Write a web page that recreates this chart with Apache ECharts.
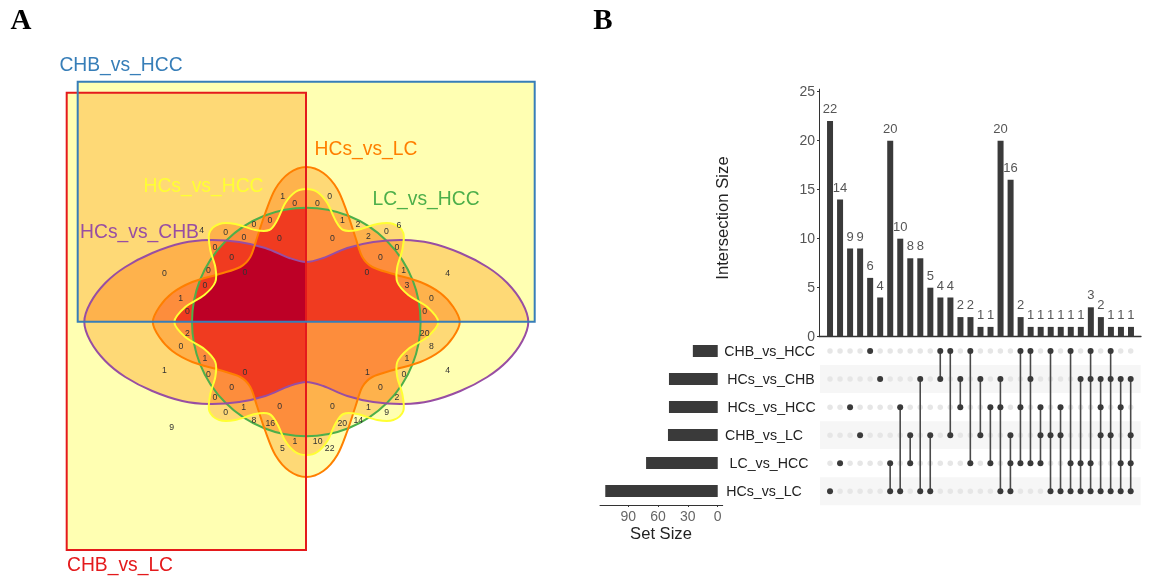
<!DOCTYPE html>
<html>
<head>
<meta charset="utf-8">
<style>html,body{margin:0;padding:0;background:#fff}#c{width:1150px;height:576px}</style>
<script src="https://cdn.jsdelivr.net/npm/echarts@6/dist/echarts.min.js"></script>
</head>
<body>
<div id="c"></div>
<script>
// ---- UpSet data ----
const setNames = ['CHB_vs_HCC','HCs_vs_CHB','HCs_vs_HCC','CHB_vs_LC','LC_vs_HCC','HCs_vs_LC'];
const setSizes = [25,49,49,50,72,113];
const intersectionSizes = [22,14,9,9,6,4,20,10,8,8,5,4,4,2,2,1,1,20,16,2,1,1,1,1,1,1,3,2,1,1,1];
const memberships = [
  [5],[4],[2],[3],[0],[1],
  [4,5],[2,5],[3,4],[1,5],[3,5],[0,1],[0,3],[1,2],[0,4],[1,3],[2,4],
  [1,2,5],[3,4,5],[0,2,4],[0,1,4],[2,3,4],[0,3,5],[2,3,5],[0,4,5],[1,4,5],
  [0,1,4,5],[1,2,3,5],[0,1,3,5],[1,2,4,5],[1,3,4,5]
];
const intersectionTicks = [0,5,10,15,20,25];
const setSizeTicks = [0,30,60,90];

// ---- Venn data ----
const vennCounts = ['4','0','0','0','0','1','0','0','0','0','0','0','0','0','1','0','2','0','1','0','0','0','0','0','1','0','8','16','1','5','1','9',
  '20','8','1','0','1','0','2','0','1','9','20','14','10','22','4',
  '0','0','1','2','6','0','2','0','0','0','0','1','3','0','0','4'];
const vennCountAnchors = [[201.7,230],[225.7,231.7],[244,236.7],[254,224],[270,220],[282.7,196],[294.7,202.7],[279.3,238],[215,247.3],[231.7,257],[208.3,269.7],[245,272.3],[164.3,273.3],[205,285.5],[180.7,298],[187.3,310.7],
  [187.3,333.3],[181,345.7],[205,358.3],[208.3,374],[245,371.7],[231.7,386.7],[215,396.7],[225.7,412],[243.7,407.3],[279.7,405.7],[254,420],[270.3,423.3],[295,441],[282.3,447.7],[164.3,370.3],[171.7,426.7],
  [424.7,333.3],[431.3,345.7],[407,358.3],[404,374],[367.3,371.7],[380.3,386.7],[397,396.7],[332.3,405.7],[368.3,407.3],[386.7,412],[342.3,423.3],[358.3,420],[317.7,441],[329.7,447.7],[447.7,370],
  [329.7,195.7],[317.3,203],[342.3,220.3],[358,223.7],[399,225],[386.3,231.3],[368.3,236.3],[332.3,238],[397,247.3],[380.3,257],[367,272.3],[403.7,269.7],[407,285.3],[431.3,298],[424.7,310.7],[447.7,273.3]];
const vennCentre = [306.3,322];
// one quadrant of each curved outline, as offsets from the centre
const purpleQuadrant = [[0,-60],[17,-64],[41,-74],[67,-80],[97,-82],[124,-79],[154,-69],[181,-55],[201,-39],[216,-19],[222,0]];
const orangeQuadrant = [[0,-155],[17,-149],[31,-133],[41,-109],[49,-85],[56,-65],[66,-55],[87,-48],[114,-40],[134,-29],[147,-15],[153.5,0]];
const yellowQuadrant = [[0,-133],[11,-130],[21,-119],[29,-102],[37,-92],[51,-92],[71,-98],[87,-98],[97,-89],[96,-72],[91,-55],[91,-40],[102,-27],[121,-15],[132,0]];
const greenRadius = 114.3;
const redCorners = [[66.7,92.7],[306,550]];
const blueCorners = [[77.7,81.7],[534.7,321.8]];
const regionColors = ['#FFFFB2','#FED976','#FEB24C','#FD8D3C','#F03B20','#BD0026'];
const vennLabels = [
  ['CHB_vs_HCC',121,65.5,'#377EB8'],['HCs_vs_LC',366,149.5,'#FF7F00'],['LC_vs_HCC',426,199.5,'#4DAF4A'],
  ['HCs_vs_HCC',203.5,186.5,'#FFFF33'],['HCs_vs_CHB',139.5,232.5,'#984EA3'],['CHB_vs_LC',120,565.5,'#E41A1C']
];
const setLabelCentres = [769.7,771,771.7,764,769,764];
const setLabelRows = [352,380,408,436.3,464.3,492.3];

// ---- drawing helpers ----
const font = 'Liberation Sans';
function fullOutline(q){
  const pts = q.map(p=>[p[0],p[1]]);
  const n = q.length;
  for(let i=n-2;i>=0;i--) pts.push([q[i][0],-q[i][1]]);
  for(let i=1;i<n;i++) pts.push([-q[i][0],-q[i][1]]);
  for(let i=n-2;i>=1;i--) pts.push([-q[i][0],q[i][1]]);
  return pts;
}
function splinePath(pts){
  const n = pts.length;
  let d = 'M'+pts[0][0].toFixed(2)+' '+pts[0][1].toFixed(2);
  for(let i=0;i<n;i++){
    const p0=pts[(i-1+n)%n],p1=pts[i],p2=pts[(i+1)%n],p3=pts[(i+2)%n];
    const c1=[p1[0]+(p2[0]-p0[0])/6,p1[1]+(p2[1]-p0[1])/6];
    const c2=[p2[0]-(p3[0]-p1[0])/6,p2[1]-(p3[1]-p1[1])/6];
    d+=' C'+[c1[0],c1[1],c2[0],c2[1],p2[0],p2[1]].map(v=>v.toFixed(2)).join(' ');
  }
  return d+' Z';
}
function renderVenn(params,api){
  const toPx = (x,y)=>api.coord([x,y]);
  const curve = q=>({type:'path',shape:{pathData:splinePath(fullOutline(q).map(p=>toPx(vennCentre[0]+p[0],vennCentre[1]+p[1])))}});
  const rectOf = c=>{const a=toPx(c[0][0],c[0][1]),b=toPx(c[1][0],c[1][1]);return {type:'rect',shape:{x:a[0],y:a[1],width:b[0]-a[0],height:b[1]-a[1]}};};
  const cc = toPx(vennCentre[0],vennCentre[1]);
  const rEdge = toPx(vennCentre[0]+greenRadius,vennCentre[1]);
  const shapes = {
    green:{type:'circle',shape:{cx:cc[0],cy:cc[1],r:rEdge[0]-cc[0]}},
    purple:curve(purpleQuadrant), orange:curve(orangeQuadrant), yellow:curve(yellowQuadrant),
    red:rectOf(redCorners), blue:rectOf(blueCorners)
  };
  const order = ['red','blue','green','purple','orange','yellow'];
  const tl = toPx(0,0), br = toPx(600,576);
  const children = [];
  const clone = s=>JSON.parse(JSON.stringify(s));
  for(let k=1;k<=6;k++){
    for(let mask=1;mask<64;mask++){
      const members = order.filter((_,i)=>mask>>i&1);
      if(members.length!==k) continue;
      let el = {type:'rect',shape:{x:tl[0],y:tl[1],width:br[0]-tl[0],height:br[1]-tl[1]},style:{fill:regionColors[k-1]}};
      members.forEach(name=>{el={type:'group',clipPath:clone(shapes[name]),children:[el]};});
      children.push(el);
    }
  }
  const strokeColors = {green:'#4DAF4A',purple:'#984EA3',orange:'#FF7F00',yellow:'#FFFF33',red:'#E41A1C',blue:'#377EB8'};
  ['green','purple','orange','yellow','red','blue'].forEach(name=>{
    const s = clone(shapes[name]);
    s.style = {fill:'none',stroke:strokeColors[name],lineWidth:2};
    children.push(s);
  });
  return {type:'group',children};
}
function textSeries(data,size,opts){
  opts = opts||{};
  return {type:'custom',coordinateSystem:'cartesian2d',xAxisIndex:0,yAxisIndex:0,silent:true,z:opts.z||5,clip:false,
    data:data.map((d,i)=>({value:[d[1],d[2]],label:d[0],color:d[3]||opts.color})),
    renderItem:(params,api)=>{
      const it = data[params.dataIndex];
      const p = api.coord([it[1],it[2]]);
      return {type:'text',x:p[0],y:p[1],rotation:opts.rotation||0,style:{text:it[0],fontFamily:opts.family||font,fontSize:size,fontWeight:opts.weight||'normal',
        fill:it[3]||opts.color||'#333',align:'center',verticalAlign:'middle'}};
    }};
}

const allDots=[],activeDots=[],links=[];
memberships.forEach((m,c)=>{
  setNames.forEach((_,r)=>{allDots.push([c,r]);});
  m.forEach(r=>activeDots.push([c,r]));
  if(m.length>1) links.push([c,Math.min.apply(null,m),Math.max.apply(null,m)]);
});

const option = {
  animation:false,
  backgroundColor:'#fff',
  grid:[
    {left:0,top:0,width:1150,height:576},
    {left:819,top:89.2,width:322,height:247.5},
    {left:820,top:337,width:320.7,height:168.3},
    {left:600,top:337,width:122.7,height:168}
  ],
  xAxis:[
    {gridIndex:0,type:'value',min:0,max:1150,show:false},
    {gridIndex:1,type:'value',min:-1.1,max:31,axisLine:{show:true,onZero:false,lineStyle:{color:'#333',width:1.3}},axisTick:{show:false},axisLabel:{show:false},splitLine:{show:false}},
    {gridIndex:2,type:'value',min:-1,max:31,show:false,splitLine:{show:false}},
    {gridIndex:3,type:'value',inverse:true,min:-5,max:118.3,position:'bottom',
      axisLine:{show:true,onZero:false,lineStyle:{color:'#333',width:1}},
      axisTick:{show:true,length:2,lineStyle:{color:'#333'},customValues:setSizeTicks},
      axisLabel:{show:true,margin:5,fontFamily:font,fontSize:14,color:'#666',customValues:setSizeTicks},splitLine:{show:false}}
  ],
  yAxis:[
    {gridIndex:0,type:'value',min:0,max:576,inverse:true,show:false},
    {gridIndex:1,type:'value',min:0,max:25.25,
      axisLine:{show:true,onZero:false,lineStyle:{color:'#333',width:1}},
      axisTick:{show:true,length:2,lineStyle:{color:'#333'},customValues:intersectionTicks},
      axisLabel:{show:true,margin:4,fontFamily:font,fontSize:14,color:'#555',customValues:intersectionTicks},splitLine:{show:false}},
    {gridIndex:2,type:'category',data:setNames,inverse:true,
      axisLine:{show:false},axisTick:{show:false},axisLabel:{show:false},splitLine:{show:false},
      splitArea:{show:true,areaStyle:{color:['#ffffff','#f6f6f6']}}},
    {gridIndex:3,type:'category',data:setNames,inverse:true,axisLine:{show:false},axisTick:{show:false},axisLabel:{show:false}}
  ],
  series:[
    {type:'custom',coordinateSystem:'cartesian2d',xAxisIndex:0,yAxisIndex:0,silent:true,clip:false,z:1,data:[[0,0]],renderItem:renderVenn},
    textSeries(vennCounts.map((t,i)=>[t,vennCountAnchors[i][0],vennCountAnchors[i][1]+0.5]),8.7,{color:'#333'}),
    textSeries(vennLabels,19.3,{}),
    textSeries([['A',21,22],['B',603,22]],29,{family:'Liberation Serif',weight:'bold',color:'#000'}),
    textSeries(setNames.map((t,i)=>[t,setLabelCentres[i],setLabelRows[i]]),14.2,{color:'#222'}),
    textSeries([['Set Size',661,534]],16.6,{color:'#222'}),
    textSeries([['Intersection Size',723,218]],16.7,{color:'#222',rotation:Math.PI/2}),
    {type:'bar',xAxisIndex:1,yAxisIndex:1,barWidth:6,silent:true,itemStyle:{color:'#3a3a3a'},
      data:intersectionSizes.map((v,i)=>[i,v]),
      label:{show:true,position:'top',distance:5,fontFamily:font,fontSize:13,color:'#555',formatter:p=>p.value[1]}},
    {type:'scatter',xAxisIndex:2,yAxisIndex:2,symbolSize:5.5,silent:true,z:2,itemStyle:{color:'#e6e6e6',opacity:1},data:allDots},
    {type:'custom',coordinateSystem:'cartesian2d',xAxisIndex:2,yAxisIndex:2,silent:true,z:3,data:links,encode:{x:0,y:[1,2]},
      renderItem:(params,api)=>{
        const a=api.coord([api.value(0),api.value(1)]),b=api.coord([api.value(0),api.value(2)]);
        return {type:'line',shape:{x1:a[0],y1:a[1],x2:b[0],y2:b[1]},style:{stroke:'#4a4a4a',lineWidth:1.6}};
      }},
    {type:'scatter',xAxisIndex:2,yAxisIndex:2,symbolSize:6,silent:true,z:4,itemStyle:{color:'#3a3a3a',opacity:1},data:activeDots},
    {type:'bar',xAxisIndex:3,yAxisIndex:3,barWidth:12,silent:true,itemStyle:{color:'#3a3a3a'},data:setSizes}
  ]
};
const chart = echarts.init(document.getElementById('c'),null,{renderer:'canvas'});
chart.setOption(option);
</script>
</body>
</html>
